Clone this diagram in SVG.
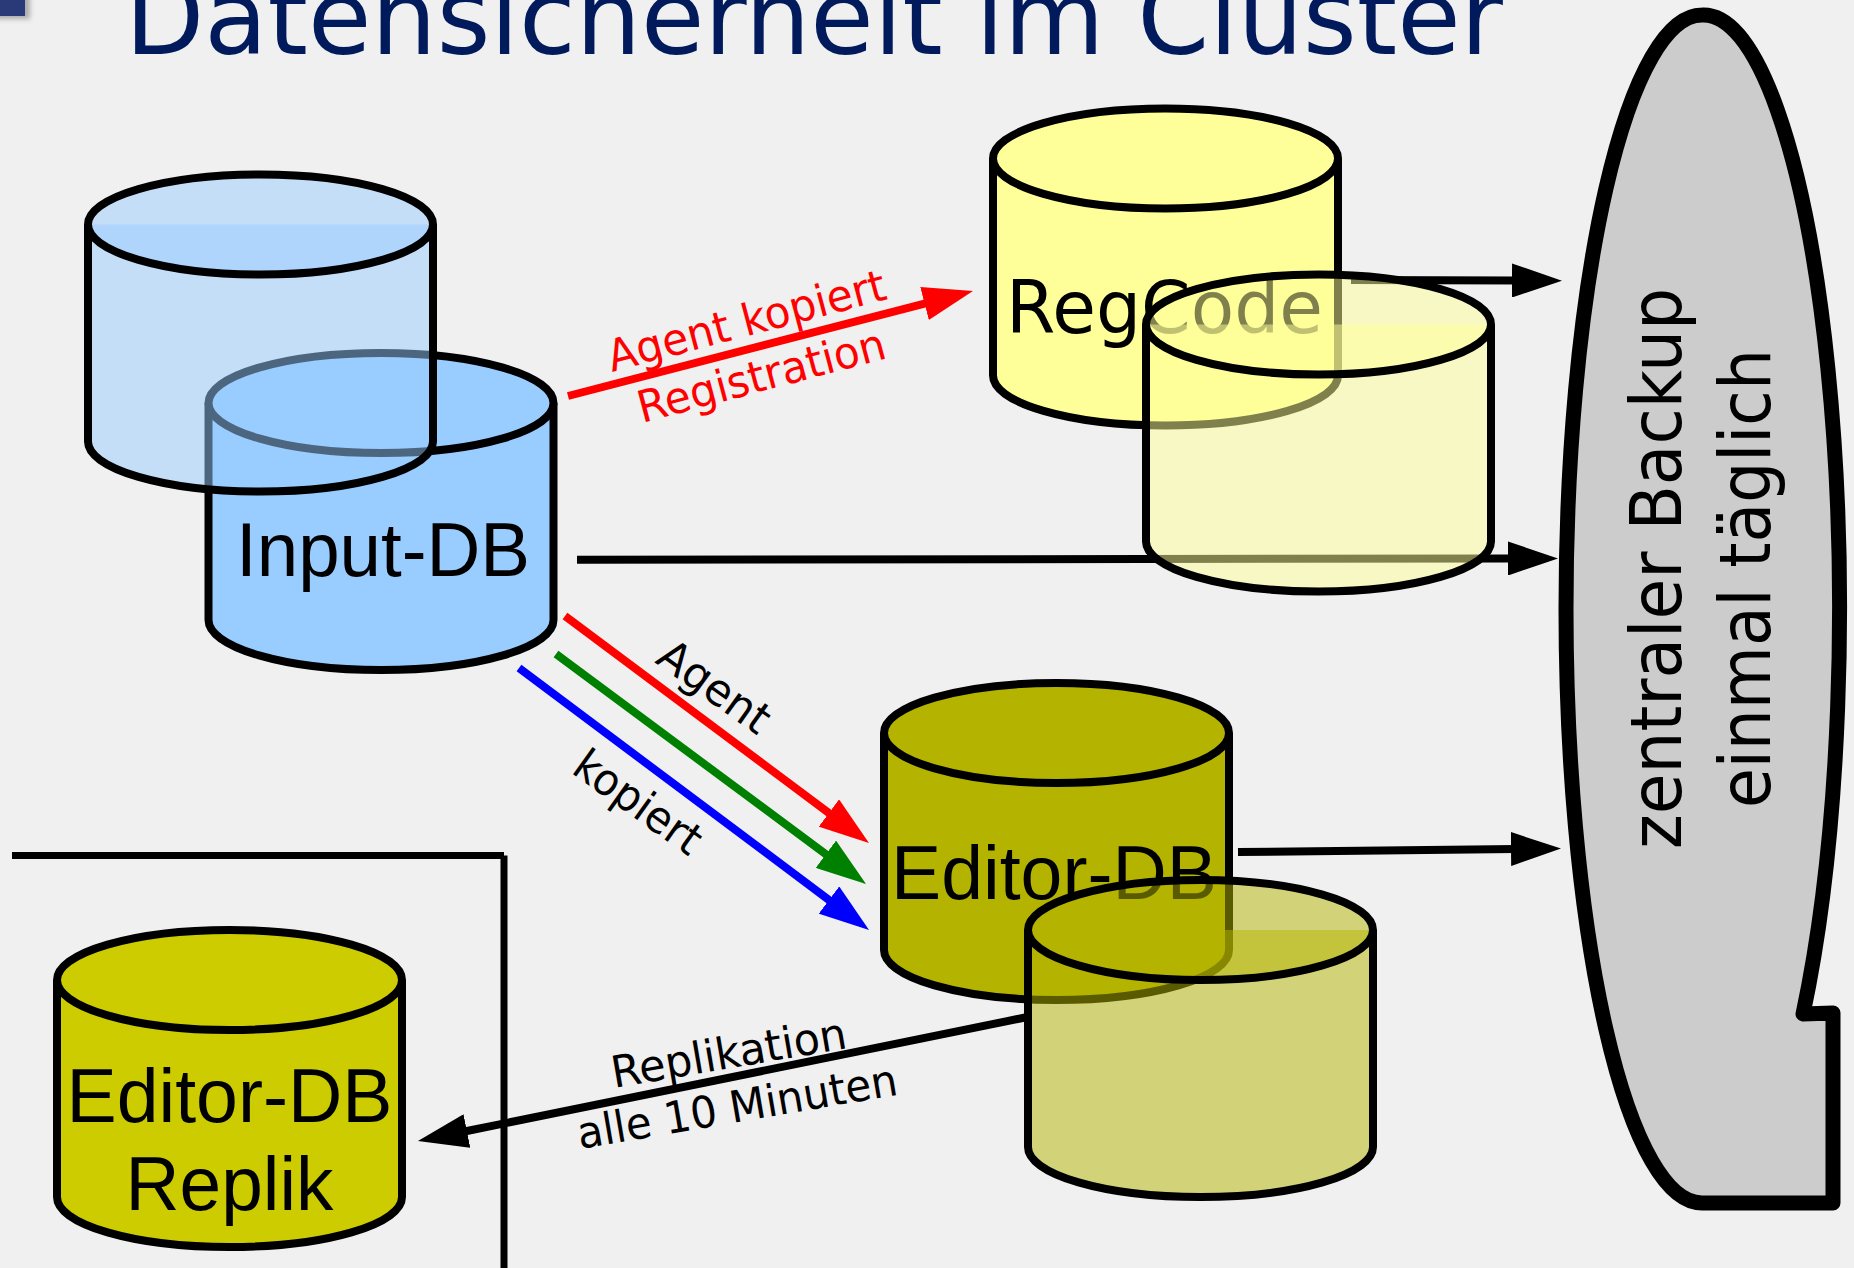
<svg xmlns="http://www.w3.org/2000/svg" width="1854" height="1268" viewBox="0 0 1854 1268">
<style>
.can{stroke:#000;stroke-width:8;stroke-linejoin:round}
.ghost{fill-opacity:.5}
.blue{fill:#99ccff}.pale{fill:#ffff99}.olive{fill:#b3b300}.lime{fill:#cccc00}
.lab{font-family:"DejaVu Sans",sans-serif;font-size:44px}
.ls{font-family:"Liberation Sans",Arial,sans-serif;font-size:76px;fill:#000}
.dj{font-family:"DejaVu Sans",sans-serif;fill:#000}
.ln{fill:none;stroke-width:8}
</style>
<defs>
<marker id="ak" markerUnits="userSpaceOnUse" markerWidth="50" markerHeight="34" viewBox="0 0 50 34" refX="5" refY="17" orient="auto"><path d="M0 0L50 17L0 34z" fill="#000"/></marker>
<marker id="ar" markerUnits="userSpaceOnUse" markerWidth="50" markerHeight="34" viewBox="0 0 50 34" refX="5" refY="17" orient="auto"><path d="M0 0L50 17L0 34z" fill="#f00"/></marker>
<marker id="ag" markerUnits="userSpaceOnUse" markerWidth="50" markerHeight="34" viewBox="0 0 50 34" refX="5" refY="17" orient="auto"><path d="M0 0L50 17L0 34z" fill="#008000"/></marker>
<marker id="ab" markerUnits="userSpaceOnUse" markerWidth="50" markerHeight="34" viewBox="0 0 50 34" refX="5" refY="17" orient="auto"><path d="M0 0L50 17L0 34z" fill="#00f"/></marker>
<filter id="sh" x="-30%" y="-30%" width="160%" height="160%"><feGaussianBlur stdDeviation="2.5"/></filter>
</defs>
<rect width="1854" height="1268" fill="#f0f0f0"/>
<g id="corner">
<rect x="-5" y="-5" width="35" height="24" fill="#666" fill-opacity=".5" filter="url(#sh)"/>
<rect x="-1" y="-1" width="26" height="17" fill="#2a3a78"/>
</g>
<g id="title"><text class="dj" x="125" y="54" font-size="106" style="fill:#001a5c" textLength="1378" lengthAdjust="spacingAndGlyphs">Datensicherheit im Cluster</text></g>
<g id="frame"><path d="M12 855.500H504M504 855.500V1268" fill="none" stroke="#000" stroke-width="7"/></g>

<g id="input-db">
<path class="can blue" d="M208.500 403v217a172.500 50 0 0 0 345 0v-217"/>
<ellipse class="can blue" cx="381" cy="403" rx="172.500" ry="50"/>
<text class="ls" x="236" y="576" textLength="294" lengthAdjust="spacingAndGlyphs">Input-DB</text>
</g>
<g id="regcode">
<path class="can pale" d="M993 158.500v217a172.500 50 0 0 0 345 0v-217"/>
<ellipse class="can pale" cx="1165.500" cy="158.500" rx="172.500" ry="50"/>
<text class="dj" x="1006" y="333" font-size="73" textLength="317" lengthAdjust="spacingAndGlyphs">RegCode</text>
</g>
<g id="editor-db">
<path class="can olive" d="M884 733v217a172.500 50 0 0 0 345 0v-217"/>
<ellipse class="can olive" cx="1056.500" cy="733" rx="172.500" ry="50"/>
<text class="ls" x="891" y="899" textLength="326" lengthAdjust="spacingAndGlyphs">Editor-DB</text>
</g>
<g id="editor-db-replik">
<path class="can lime" d="M57 980v217a172.500 50 0 0 0 345 0v-217"/>
<ellipse class="can lime" cx="229.500" cy="980" rx="172.500" ry="50"/>
<text class="ls" x="229.500" y="1122" text-anchor="middle" textLength="326" lengthAdjust="spacingAndGlyphs">Editor-DB</text>
<text class="ls" x="229.500" y="1210" text-anchor="middle" textLength="208" lengthAdjust="spacingAndGlyphs">Replik</text>
</g>

<g id="connectors">
<line class="ln" x1="568" y1="396" x2="929.400" y2="302.300" stroke="#f00" marker-end="url(#ar)"/>
<line class="ln" x1="565" y1="616" x2="832.900" y2="816" stroke="#f00" marker-end="url(#ar)"/>
<line class="ln" x1="556" y1="654" x2="829.900" y2="857.200" stroke="#008000" marker-end="url(#ag)"/>
<line class="ln" x1="519" y1="668" x2="833" y2="903" stroke="#00f" marker-end="url(#ab)"/>
<line class="ln" x1="577" y1="559.700" x2="1513" y2="558.500" stroke="#000" marker-end="url(#ak)"/>
<line class="ln" x1="1351" y1="280" x2="1517" y2="280.500" stroke="#000" marker-end="url(#ak)"/>
<line class="ln" x1="1238" y1="852" x2="1516" y2="849" stroke="#000" marker-end="url(#ak)"/>
<line class="ln" x1="1030" y1="1016.500" x2="462" y2="1132" stroke="#000" marker-end="url(#ak)"/>
<text class="lab" transform="translate(612 372) rotate(-14.800)" fill="#f00" textLength="286" lengthAdjust="spacingAndGlyphs">Agent kopiert</text>
<text class="lab" transform="translate(642 423) rotate(-14.800)" fill="#f00" textLength="255" lengthAdjust="spacingAndGlyphs">Registration</text>
<text class="lab" transform="translate(654 662) rotate(35.500)" fill="#000" textLength="127" lengthAdjust="spacingAndGlyphs">Agent</text>
<text class="lab" transform="translate(570 772) rotate(35.500)" fill="#000" textLength="146" lengthAdjust="spacingAndGlyphs">kopiert</text>
<text class="lab" transform="translate(614 1088) rotate(-9.700)" fill="#000" textLength="238" lengthAdjust="spacingAndGlyphs">Replikation</text>
<text class="lab" transform="translate(580 1149) rotate(-9.700)" fill="#000" textLength="324" lengthAdjust="spacingAndGlyphs">alle 10 Minuten</text>
</g>

<g id="input-db-copy">
<path class="can blue ghost" d="M88 224.500v217a172.500 50 0 0 0 345 0v-217"/>
<ellipse class="can blue ghost" cx="260.500" cy="224.500" rx="172.500" ry="50"/>
</g>
<g id="regcode-copy">
<path class="can pale ghost" d="M1146 324.500v217a172.500 50 0 0 0 345 0v-217"/>
<ellipse class="can pale ghost" cx="1318.500" cy="324.500" rx="172.500" ry="50"/>
</g>
<g id="editor-db-copy">
<path class="can olive ghost" d="M1028 930v217a172.500 50 0 0 0 345 0v-217"/>
<ellipse class="can olive ghost" cx="1200.500" cy="930" rx="172.500" ry="50"/>
</g>

<g id="backup">
<path d="M1833 1203H1702A136 594 0 0 1 1702 15A136 594 0 0 1 1803 1014L1833 1013Z" fill="#ccc" stroke="#000" stroke-width="15" stroke-linejoin="round"/>
<text class="dj" transform="translate(1681 849) rotate(-90)" font-size="72" textLength="561" lengthAdjust="spacingAndGlyphs">zentraler Backup</text>
<text class="dj" transform="translate(1770 808) rotate(-90)" font-size="72" textLength="459" lengthAdjust="spacingAndGlyphs">einmal täglich</text>
</g>
</svg>
